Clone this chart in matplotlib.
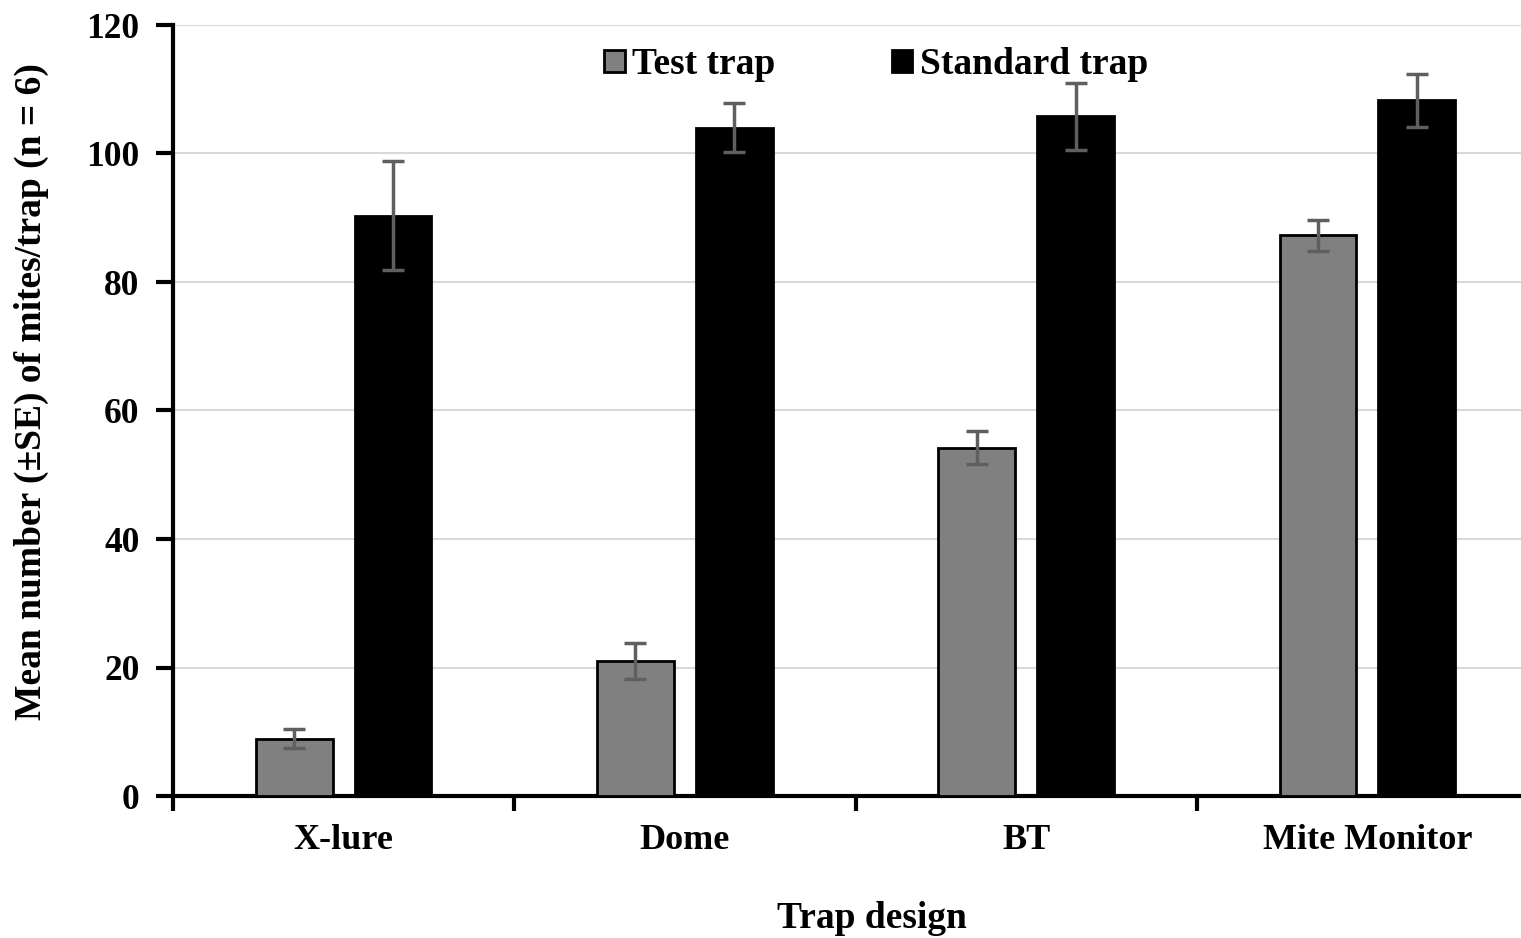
import numpy as np
import matplotlib
matplotlib.use("Agg")
import matplotlib.pyplot as plt

# values
designs = ["X-lure", "Dome", "BT", "Mite Monitor"]
test_mean = [8.9, 21.0, 54.2, 87.3]
test_se = [1.5, 2.8, 2.6, 2.4]
standard_mean = [90.3, 104.0, 105.8, 108.3]
standard_se = [8.5, 3.8, 5.2, 4.1]
y_ticks = [0, 20, 40, 60, 80, 100, 120]

plt.rcParams['font.family'] = ['Liberation Serif', 'DejaVu Serif']
plt.rcParams['font.weight'] = 'bold'

fig = plt.figure(figsize=(15.21, 9.38), dpi=100)
# axis runs past the right edge of the picture, like the reference
ax = fig.add_axes([173 / 1521, 142 / 938, 1365 / 1521, 771 / 938])

x = np.arange(len(designs))
w = 0.225
off = 0.145

err_kw = dict(ecolor='#5f5f5f', elinewidth=2.5, capsize=8, capthick=2.5)
ax.bar(x - off, test_mean, w, yerr=test_se, color='#808080', edgecolor='black',
       linewidth=2, label='Test trap', error_kw=err_kw, zorder=3)
ax.bar(x + off, standard_mean, w, yerr=standard_se, color='black', edgecolor='black',
       linewidth=2, label='Standard trap', error_kw=err_kw, zorder=3)

ax.set_xlim(-0.5, 3.5)
ax.set_ylim(0, 120)
ax.set_yticks(y_ticks)
ax.yaxis.grid(True, color='#d9d9d9', linewidth=1.5, zorder=0)
ax.set_axisbelow(True)

# category names centred, tick marks on the category boundaries
ax.set_xticks([-0.5, 0.5, 1.5, 2.5])
ax.set_xticklabels([])
ax.set_xticks(x, minor=True)
ax.set_xticklabels(designs, minor=True, fontsize=26, fontweight='bold')
ax.tick_params(axis='x', which='minor', length=0, pad=20)
ax.tick_params(axis='x', which='major', length=11, width=3, direction='out')
ax.tick_params(axis='y', length=12, width=3, direction='out', labelsize=25.5, pad=12)
for lab in ax.get_yticklabels():
    lab.set_fontweight('bold')

for s in ['top', 'right']:
    ax.spines[s].set_visible(False)
for s in ['left', 'bottom']:
    ax.spines[s].set_linewidth(3)

fig.text(31 / 1521, 1 - 392 / 938, 'Mean number (±SE) of mites/trap (n = 6)',
         fontsize=27, fontweight='bold', rotation=90, ha='center', va='center')
fig.text(872 / 1521, 1 - 918 / 938, 'Trap design', fontsize=27, fontweight='bold',
         ha='center', va='center')

leg = ax.legend(loc='upper center', bbox_to_anchor=(0.515, 1.015), ncol=2,
                frameon=False, handlelength=0.55, handleheight=0.55,
                handletextpad=0.2, columnspacing=3.1,
                prop={'weight': 'bold', 'size': 27})

plt.savefig('out.png', dpi=100)
